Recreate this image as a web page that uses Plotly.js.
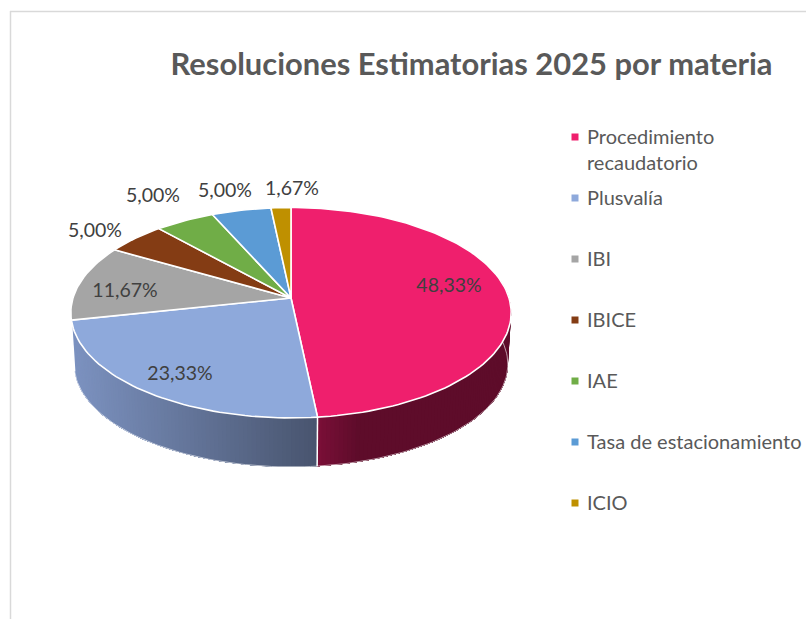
<!DOCTYPE html>
<html><head><meta charset="utf-8">
<script src="https://cdn.plot.ly/plotly-3.0.1.min.js"></script>
<style>html,body{margin:0;padding:0;background:#fff}#c{width:806px;height:619px}</style>
</head><body><div id="c"></div>
<script>
// DATA
const categories = ['Procedimiento recaudatorio','Plusvalía','IBI','IBICE','IAE','Tasa de estacionamiento','ICIO'];
const legendLabels = ['Procedimiento<br>recaudatorio','Plusvalía','IBI','IBICE','IAE','Tasa de estacionamiento','ICIO'];
const values = [48.33,23.33,11.67,5.00,5.00,5.00,1.67];
const titleText = 'Resoluciones Estimatorias 2025 por materia';

// STYLE / LAYOUT
const colors = ['#EF1F6D','#8EA9DB','#A5A5A5','#843C14','#70AD47','#5B9BD5','#BF9000'];
const labelX = [449,180,125,95,153,225,292];
const labelY = [287.5,375.5,292.5,232.5,197.5,192.5,190.5];
const legendTextX = 585, legendMarkX = 575;
const legendY = [137,198,259,320,381,442,503];
const FONT = 'Lato, sans-serif';

// perspective projection of the pie disc onto page pixels (axes run in page pixels)
const CX=291, A=218, K=-0.1400, B=298, C=61.4, WALL=52, WALLV=-3, BOTX=0.985;
function topPt(t){const r=t*Math.PI/180,u=Math.sin(r),v=-Math.cos(r),d=1+K*v;return [CX+A*u/d,(B+C*v)/d];}
function botPt(t){const r=t*Math.PI/180,u=Math.sin(r),v=-Math.cos(r),d=1+K*v;return [CX+A*BOTX*u/d,(B+C*v)/d+WALL+WALLV*v];}
function arc(f,a,b){const n=Math.max(2,Math.ceil(Math.abs(b-a)/1.5)),o=[];for(let i=0;i<=n;i++)o.push(f(a+(b-a)*i/n));return o;}
function poly(pts,color,lineColor,w){return {type:'scatter',mode:'lines',x:pts.map(p=>p[0]),y:pts.map(p=>p[1]),fill:'toself',fillcolor:color,line:{color:lineColor||color,width:w===undefined?0:w},hoverinfo:'skip',showlegend:false};}

const total=values.reduce((a,b)=>a+b,0);
const edges=[0];values.forEach(v=>edges.push(edges[edges.length-1]+v/total*360));

const mix=(c1,c2,t)=>'rgb('+c1.map((c,i)=>Math.round(c+(c2[i]-c)*t)).join(',')+')';
const traces=[];
function wall(a,b,colorAt){ // painter's strips from a towards b
  const n=Math.ceil(Math.abs(b-a)/1);
  for(let i=0;i<n;i++){
    const s=a+(b-a)*i/n;
    const pts=arc(topPt,s,b).concat(arc(botPt,b,s));
    traces.push(poly(pts,colorAt(botPt(s)[0])));
  }
}
const WALL_START=80;
wall(WALL_START,edges[1],x=>{const t=Math.min(1,Math.max(0,(x-318)/42));return mix([124,15,56],[94,12,42],t);});
wall(edges[2],edges[1],x=>{const t=(x-75)/(316-75);return mix([124,146,192],[72,84,110],t);});
// wall outlines
const outlineBlue=arc(botPt,edges[2],edges[1]);
const outlinePink=arc(botPt,edges[1],WALL_START);
[outlineBlue,outlinePink].forEach(p=>traces.push({type:'scatter',mode:'lines',x:p.map(q=>q[0]),y:p.map(q=>q[1]),line:{color:'rgba(255,255,255,0.6)',width:1},hoverinfo:'skip',showlegend:false}));
[[topPt(edges[1]),botPt(edges[1])],[topPt(edges[2]),botPt(edges[2])]].forEach(p=>traces.push({type:'scatter',mode:'lines',x:p.map(q=>q[0]),y:p.map(q=>q[1]),line:{color:'#fff',width:1.5},hoverinfo:'skip',showlegend:false}));

// top face
values.forEach((v,i)=>{
  const pts=[[CX,B]].concat(arc(topPt,edges[i],edges[i+1])).concat([[CX,B]]);
  traces.push(Object.assign(poly(pts,colors[i],'#fff',1.6),{name:categories[i],text:categories[i]+': '+v.toFixed(2).replace('.',',')+'%',hoverinfo:'text'}));
});
// data labels
traces.push({type:'scatter',mode:'text',x:labelX,y:labelY,text:values.map(v=>v.toFixed(2).replace('.',',')+'%'),textposition:'middle center',textfont:{family:FONT,size:19.5,color:'#404040'},hoverinfo:'skip',showlegend:false,cliponaxis:false});
// legend
traces.push({type:'scatter',mode:'markers',x:legendY.map(()=>legendMarkX),y:legendY,marker:{symbol:'square',size:7,color:colors,line:{width:0}},hoverinfo:'skip',showlegend:false});

const annotations=legendLabels.map((t,i)=>({x:legendTextX,y:legendY[i],xref:'x',yref:'y',text:t,showarrow:false,xanchor:'left',yanchor:i===0?'top':'middle',yshift:i===0?15:1,align:'left',font:{family:FONT,size:20,color:'#595959'}}));

const layout={
  width:806,height:619,margin:{l:0,r:0,t:0,b:0},paper_bgcolor:'#fff',plot_bgcolor:'#fff',showlegend:false,
  title:{text:titleText,x:471.5/806,xanchor:'center',y:1-64/619,yanchor:'middle',font:{family:FONT,size:30.9,weight:700,color:'#595959'}},
  xaxis:{range:[0,806],visible:false,fixedrange:true},
  yaxis:{range:[619,0],visible:false,fixedrange:true},
  shapes:[
    {type:'line',xref:'x',yref:'y',x0:10.5,x1:10.5,y0:11,y1:619,line:{color:'#D9D9D9',width:1.5}},
    {type:'line',xref:'x',yref:'y',x0:10,x1:806,y0:11.5,y1:11.5,line:{color:'#D9D9D9',width:1.5}}
  ],
  annotations:annotations
};
Plotly.newPlot('c',traces,layout,{displayModeBar:false});
</script></body></html>
